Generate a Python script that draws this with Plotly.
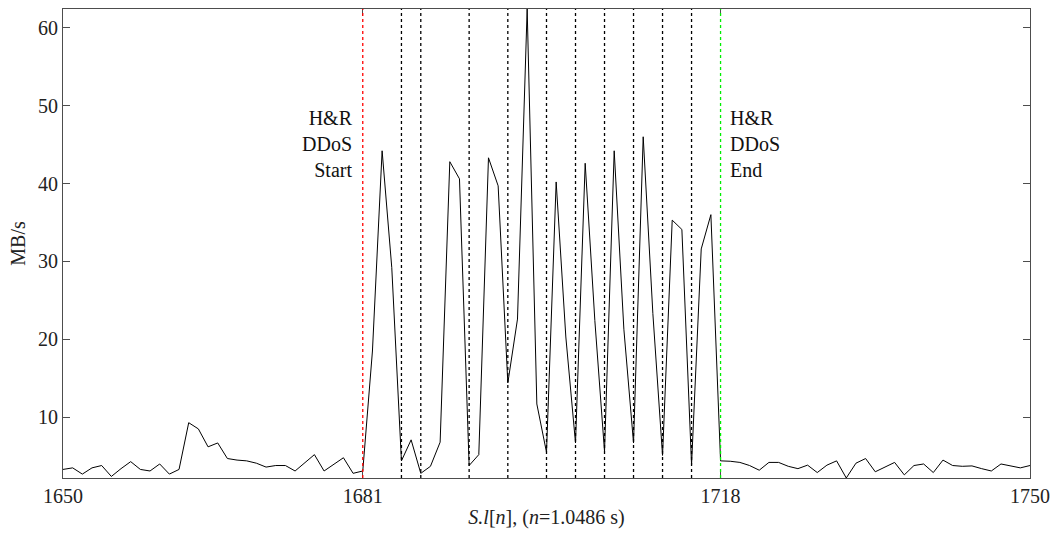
import plotly.graph_objects as go

x_start = 1650
traffic = [
    3.3, 3.5, 2.7, 3.5, 3.8, 2.4, 3.4, 4.3, 3.3, 3.1,   # 1650-1659
    4.0, 2.7, 3.3, 9.3, 8.5, 6.2, 6.7, 4.7, 4.5, 4.4,   # 1660-1669
    4.1, 3.6, 3.8, 3.8, 3.1, 4.2, 5.2, 3.1, 3.9, 4.8,   # 1670-1679
    2.8, 3.1, 18.5, 44.2, 29.2, 4.4, 7.1, 2.8, 3.7, 6.8, # 1680-1689
    42.8, 40.6, 3.8, 5.2, 43.3, 39.7, 14.4, 22.6, 62.4, 11.7, # 1690-1699
    5.5, 40.2, 20.3, 6.7, 42.6, 22.4, 5.6, 44.2, 21.3, 6.7,   # 1700-1709
    46.0, 23.3, 5.1, 35.3, 34.1, 3.9, 31.6, 36.0, 4.4, 4.35,  # 1710-1719
    4.2, 3.8, 3.2, 4.2, 4.2, 3.7, 3.4, 3.85, 2.9, 3.85,       # 1720-1729
    4.4, 2.2, 4.1, 4.7, 3.0, 3.6, 4.2, 2.6, 3.8, 4.0,         # 1730-1739
    2.9, 4.5, 3.8, 3.7, 3.75, 3.4, 3.1, 4.0, 3.7, 3.5,        # 1740-1749
    3.8,                                                       # 1750
]
x_vals = list(range(x_start, x_start + len(traffic)))

attack_start = 1681
attack_end = 1718
burst_marks = [1685, 1687, 1692, 1696, 1700, 1703, 1706, 1709, 1712, 1715]
x_ticks = [1650, 1681, 1718, 1750]
y_ticks = [10, 20, 30, 40, 50, 60]

FONT = "'Liberation Serif', 'Times New Roman', 'DejaVu Serif', serif"
AXC = "#4d4d4d"

fig = go.Figure()
fig.add_trace(go.Scatter(x=x_vals, y=traffic, mode="lines",
                         line=dict(color="black", width=1), showlegend=False))

shapes = []
for xm in burst_marks:
    shapes.append(dict(type="line", xref="x", yref="paper", x0=xm, x1=xm, y0=0, y1=1,
                       line=dict(color="black", width=1.3, dash="dot")))
shapes.append(dict(type="line", xref="x", yref="paper", x0=attack_start, x1=attack_start, y0=0, y1=1,
                   line=dict(color="#ff0000", width=1.3, dash="dot")))
shapes.append(dict(type="line", xref="x", yref="paper", x0=attack_end, x1=attack_end, y0=0, y1=1,
                   line=dict(color="#00ee00", width=1.3, dash="dot")))

fig.update_layout(
    width=1058, height=533,
    margin=dict(l=63, r=25, t=8, b=55),
    paper_bgcolor="white", plot_bgcolor="white",
    font=dict(family=FONT, size=20, color="#222"),
    shapes=shapes,
    annotations=[
        dict(x=attack_start, y=45.1, xref="x", yref="y", xanchor="right", yanchor="middle",
             xshift=-8, text="H&R<br>DDoS<br>Start", showarrow=False, align="right",
             font=dict(family=FONT, size=20, color="#111")),
        dict(x=attack_end, y=45.1, xref="x", yref="y", xanchor="left", yanchor="middle",
             xshift=7, text="H&R<br>DDoS<br>End", showarrow=False, align="left",
             font=dict(family=FONT, size=20, color="#111")),
    ],
)
fig.update_xaxes(range=[1650, 1750], tickvals=x_ticks, ticks="inside", ticklen=7,
                 tickcolor=AXC, showline=True, linecolor=AXC, linewidth=1.2, mirror="ticks",
                 showgrid=False, zeroline=False,
                 title=dict(text="<i>S.l</i>[<i>n</i>], (<i>n</i>=1.0486 s)", standoff=3,
                            font=dict(family=FONT, size=20)))
fig.update_yaxes(range=[2.2, 62.4], tickvals=y_ticks, ticks="inside", ticklen=7,
                 tickcolor=AXC, showline=True, linecolor=AXC, linewidth=1.2, mirror="ticks",
                 showgrid=False, zeroline=False,
                 title=dict(text="MB/s", standoff=6, font=dict(family=FONT, size=20)))

fig.write_html("out.html")
